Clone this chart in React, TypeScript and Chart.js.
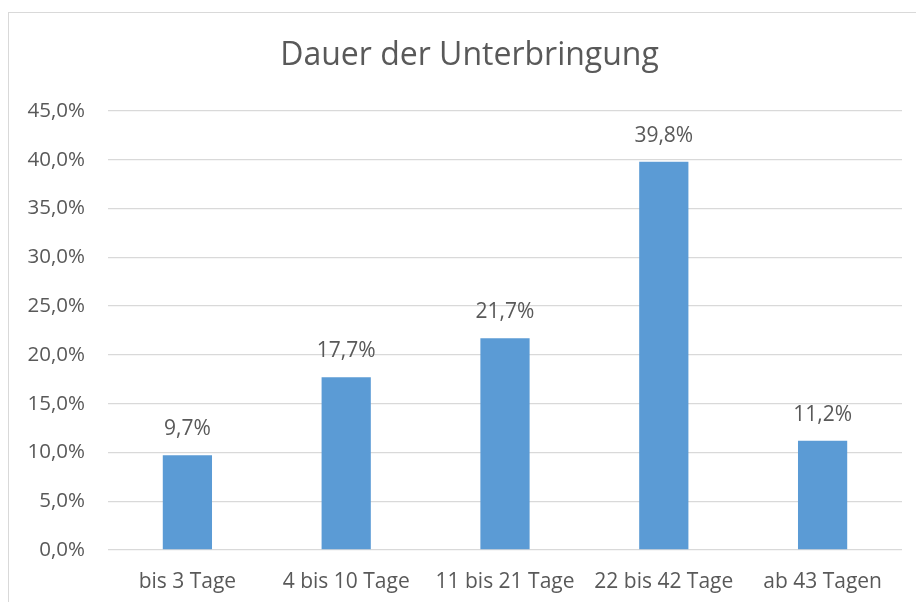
import React, { useEffect, useRef } from "react";
import { Chart, registerables } from "chart.js";

Chart.register(...registerables);

const title = "Dauer der Unterbringung";
const categories = ["bis 3 Tage", "4 bis 10 Tage", "11 bis 21 Tage", "22 bis 42 Tage", "ab 43 Tagen"];
const values = [9.7, 17.7, 21.7, 39.8, 11.2];
const yMin = 0;
const yMax = 45;
const yStep = 5;

const FONT = "'Open Sans', Lato, sans-serif";
const TEXT = "#595959";
const fmt = (v: number) => v.toFixed(1).replace(".", ",") + "%";

const dataLabels = {
  id: "dataLabels",
  afterDatasetsDraw(chart: any) {
    const ctx = chart.ctx;
    const meta = chart.getDatasetMeta(0);
    ctx.save();
    ctx.font = `21px ${FONT}`;
    ctx.fillStyle = TEXT;
    ctx.textAlign = "center";
    ctx.textBaseline = "middle";
    meta.data.forEach((el: any, i: number) => {
      ctx.fillText(fmt(values[i]), el.x, el.y - 26);
    });
    ctx.restore();
  },
};

const frameTitle = {
  id: "frameTitle",
  afterDraw(chart: any) {
    const ctx = chart.ctx;
    ctx.save();
    ctx.font = `32px ${FONT}`;
    ctx.fillStyle = TEXT;
    ctx.textAlign = "center";
    ctx.textBaseline = "middle";
    ctx.fillText(title, (chart.width + 14) / 2, 43.2);
    ctx.restore();
  },
};

export default function App() {
  const ref = useRef<HTMLCanvasElement>(null);
  useEffect(() => {
    if (!ref.current) return;
    const chart = new Chart(ref.current, {
      type: "bar",
      data: {
        labels: categories,
        datasets: [
          {
            data: values,
            backgroundColor: "#5B9BD5",
            borderWidth: 0,
            categoryPercentage: 1,
            barPercentage: 0.31,
          },
        ],
      },
      options: {
        animation: false,
        responsive: false,
        layout: { padding: { left: 0, right: 14, top: 98, bottom: 0 } },
        plugins: {
          legend: { display: false },
          tooltip: { enabled: false },
          title: { display: false },
        },
        scales: {
          x: {
            grid: { display: false },
            border: { display: false },
            ticks: { color: TEXT, font: { family: FONT, size: 21 }, padding: 11, maxRotation: 0 },
            afterFit: (s: any) => {
              s.height = 52;
            },
          },
          y: {
            min: yMin,
            max: yMax,
            ticks: {
              stepSize: yStep,
              color: TEXT,
              font: { family: FONT, size: 20.5 },
              padding: 23,
              callback: (v: any) => fmt(Number(v)),
            },
            grid: { color: "#D9D9D9", lineWidth: 1.3, drawTicks: false },
            border: { display: false },
            afterFit: (s: any) => {
              s.width = 99;
            },
          },
        },
      },
      plugins: [dataLabels, frameTitle],
    });
    return () => chart.destroy();
  }, []);

  return (
    <div
      style={{
        position: "fixed",
        left: 8,
        top: 12,
        width: 908,
        height: 590,
        boxSizing: "border-box",
        borderLeft: "1px solid #D9D9D9",
        borderTop: "1px solid #D9D9D9",
        background: "#fff",
      }}
    >
      <canvas ref={ref} width={907} height={589} style={{ display: "block" }} />
    </div>
  );
}
